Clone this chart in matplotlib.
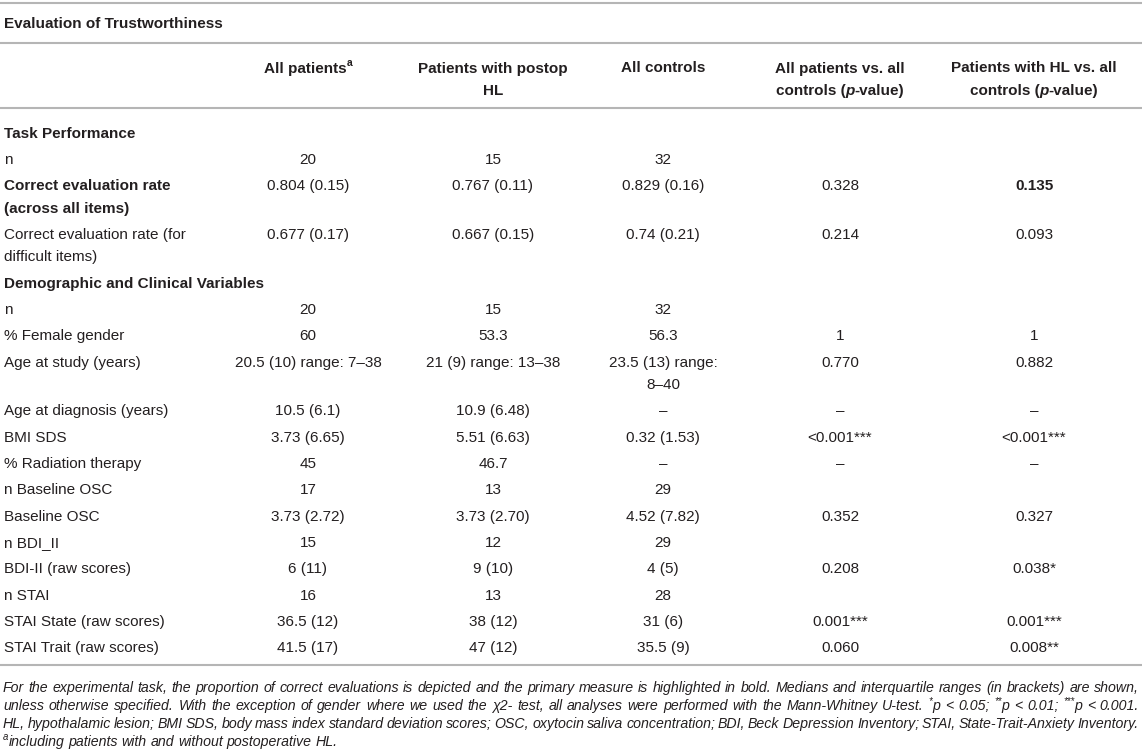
import re
import matplotlib
matplotlib.use("Agg")
import matplotlib.pyplot as plt
from matplotlib import font_manager

# ---- table content ----
title = "Evaluation of Trustworthiness"
headers = ["All patients^{a}", "Patients with postop\nHL", "All controls",
           "All patients vs. all\ncontrols (_{p}-value)",
           "Patients with HL vs. all\ncontrols (_{p}-value)"]

section_1 = "Task Performance"
labels_1 = ["n", "Correct evaluation rate\n(across all items)",
            "Correct evaluation rate (for\ndifficult items)"]
all_patients_1 = ["20", "0.804 (0.15)", "0.677 (0.17)"]
hl_patients_1 = ["15", "0.767 (0.11)", "0.667 (0.15)"]
controls_1 = ["32", "0.829 (0.16)", "0.74 (0.21)"]
p_all_1 = ["", "0.328", "0.214"]
p_hl_1 = ["", "0.135", "0.093"]

section_2 = "Demographic and Clinical Variables"
labels_2 = ["n", "% Female gender", "Age at study (years)", "Age at diagnosis (years)",
            "BMI SDS", "% Radiation therapy", "n Baseline OSC", "Baseline OSC",
            "n BDI_II", "BDI-II (raw scores)", "n STAI", "STAI State (raw scores)",
            "STAI Trait (raw scores)"]
all_patients_2 = ["20", "60", "20.5 (10) range: 7\u201338", "10.5 (6.1)", "3.73 (6.65)", "45",
                  "17", "3.73 (2.72)", "15", "6 (11)", "16", "36.5 (12)", "41.5 (17)"]
hl_patients_2 = ["15", "53.3", "21 (9) range: 13\u201338", "10.9 (6.48)", "5.51 (6.63)", "46.7",
                 "13", "3.73 (2.70)", "12", "9 (10)", "13", "38 (12)", "47 (12)"]
controls_2 = ["32", "56.3", "23.5 (13) range:\n8\u201340", "\u2013", "0.32 (1.53)", "\u2013",
              "29", "4.52 (7.82)", "29", "4 (5)", "28", "31 (6)", "35.5 (9)"]
p_all_2 = ["", "1", "0.770", "\u2013", "<0.001***", "\u2013",
           "", "0.352", "", "0.208", "", "0.001***", "0.060"]
p_hl_2 = ["", "1", "0.882", "\u2013", "<0.001***", "\u2013",
          "", "0.327", "", "0.038*", "", "0.001***", "0.008**"]

bold_label = "Correct evaluation rate\n(across all items)"
bold_value = "0.135"

footnote = [
    "For the experimental task, the proportion of correct evaluations is depicted and the primary "
    "measure is highlighted in bold. Medians and interquartile ranges (in brackets) are shown,",
    "unless otherwise specified. With the exception of gender where we used the \u03c72- test, all "
    "analyses were performed with the Mann-Whitney U-test. ^{*}p < 0.05; ^{**}p < 0.01; ^{***}p < 0.001.",
    "HL, hypothalamic lesion; BMI SDS, body mass index standard deviation scores; OSC, oxytocin "
    "saliva concentration; BDI, Beck Depression Inventory; STAI, State-Trait-Anxiety Inventory.",
    "^{a}including patients with and without postoperative HL.",
]

# ---- layout ----
W, H = 1142, 754
TXT = "#231f20"
RULE = "#b5b5b5"
FS = 11
col_x = [308, 493, 663, 840, 1034]
X_LEFT, X_RIGHT = 3, 1139

fig = plt.figure(figsize=(W / 100, H / 100), dpi=100)
ax = fig.add_axes([0, 0, 1, 1])
ax.set_xlim(0, W)
ax.set_ylim(H, 0)
ax.axis("off")
renderer = fig.canvas.get_renderer()

try:
    font_manager.findfont(font_manager.FontProperties(family="Liberation Sans Narrow"),
                          fallback_to_default=False)
    narrow = "Liberation Sans Narrow"
except Exception:
    narrow = "Liberation Sans"

base = dict(family=["Liberation Sans", "DejaVu Sans"], fontsize=FS, color=TXT)
bold = dict(base, fontweight="bold")
foot = dict(family=[narrow, "Liberation Sans", "DejaVu Sans"], fontsize=10,
            color=TXT, fontstyle="italic")


def measure(s, props):
    t = ax.text(0, 0, s, **props)
    w = t.get_window_extent(renderer).width
    t.remove()
    return w


def runs_for(s, props):
    runs = []
    for seg in re.split(r"(\^\{[^}]*\}|_\{[^}]*\})", s):
        if not seg:
            continue
        p = dict(props)
        dy = 0
        if seg.startswith("^{"):
            seg = seg[2:-1]
            p["fontsize"] = props["fontsize"] * 0.68
            dy = -0.42 * props["fontsize"] * 100 / 72
        elif seg.startswith("_{"):
            seg = seg[2:-1]
            p["fontstyle"] = "italic"
        runs.append((seg, p, dy))
    return runs


def draw_runs(x, y, runs, ha="left"):
    widths = [measure(s, p) for s, p, _ in runs]
    x0 = x - sum(widths) / 2 if ha == "center" else x
    for (s, p, dy), w in zip(runs, widths):
        ax.text(x0, y + dy, s, ha="left", va="baseline", **p)
        x0 += w


def draw_cell(x, y, s, props, ha):
    for i, line in enumerate(s.split("\n")):
        draw_runs(x, y + i * 22.5, runs_for(line, props), ha)
    return s.count("\n")


def rule(y):
    ax.hlines(y, 0, W, color=RULE, lw=1.5)


BL = 5.5  # baseline offset below visual centre

rule(3)
draw_cell(X_LEFT + 1, 23 + BL, title, bold, "left")
rule(43)
for x, h in zip(col_x, headers):
    draw_cell(x, 67 + BL, h, bold, "center")
rule(108)

y = 132
draw_cell(4, y + BL, section_1, bold, "left")
pitch = 26.3
for block in [(labels_1, all_patients_1, hl_patients_1, controls_1, p_all_1, p_hl_1),
              (labels_2, all_patients_2, hl_patients_2, controls_2, p_all_2, p_hl_2)]:
    if block[0] is labels_2:
        y += pitch
        draw_cell(4, y + BL, section_2, bold, "left")
    for i, lab in enumerate(block[0]):
        y += pitch
        extra = draw_cell(4, y + BL, lab, bold if lab == bold_label else base, "left")
        for x, col in zip(col_x, block[1:]):
            v = col[i]
            props = bold if (v == bold_value and col is p_hl_1) else base
            extra = max(extra, draw_cell(x, y + BL, v, props, "center"))
        y += extra * 22.5

rule(665)

# footnote: size the italic font so the first line fills the width
natural = measure(footnote[0], foot)
foot["fontsize"] *= (X_RIGHT - X_LEFT) / natural * 0.995

space = measure("a a", foot) - measure("aa", foot)
for k, line in enumerate(footnote):
    yb = 687 + 18 * k + 5
    words = [runs_for(w, foot) for w in line.split(" ")]
    wws = [sum(measure(s, p) for s, p, _ in r) for r in words]
    justify = k < len(footnote) - 1
    gap = (X_RIGHT - X_LEFT - sum(wws)) / (len(words) - 1) if justify else space
    x = X_LEFT
    for r, w in zip(words, wws):
        draw_runs(x, yb, r, "left")
        x += w + gap

fig.savefig("out.png", dpi=100, facecolor="white")
